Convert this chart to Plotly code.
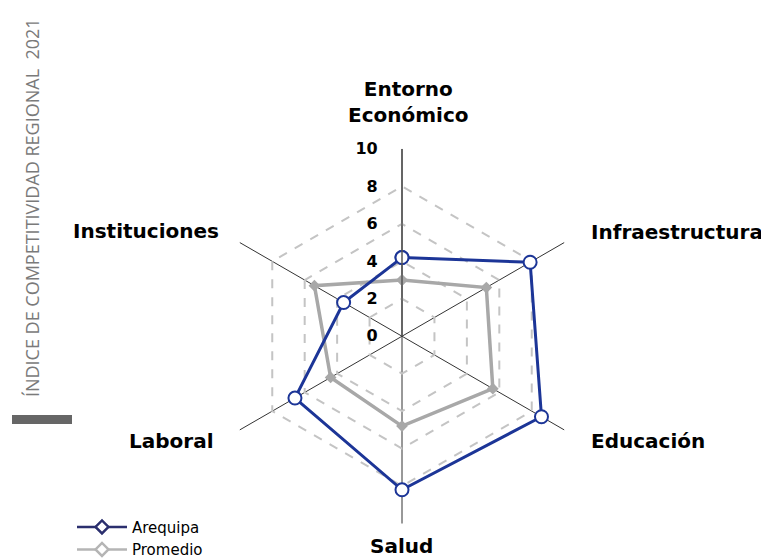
import plotly.graph_objects as go

# Datos
pilares = ['Entorno<br>Económico', 'Infraestructura', 'Educación', 'Salud', 'Laboral', 'Instituciones']
arequipa = [4.2, 7.9, 8.6, 8.2, 6.6, 3.6]
promedio = [3.0, 5.2, 5.6, 4.8, 4.4, 5.4]
ticks_r = [0, 2, 4, 6, 8, 10]

W, H = 769, 558
DX, DY = 8, 2   # la página añade un pequeño margen
azul = '#1c3597'
gris = '#a8a8a8'
fuente = 'DejaVu Sans'

def px_x(x):
    return (x - DX) / W

def px_y(y):
    return 1 - (y - DY) / H

# posición (px) y anclaje de cada etiqueta de pilar
pos_etiquetas = [
    (408, 97, 'center', 'middle'),
    (589, 229, 'left', 'middle'),
    (589, 441, 'left', 'middle'),
    (401, 548, 'center', 'middle'),
    (216, 441, 'right', 'middle'),
    (221, 228, 'right', 'middle'),
]

fig = go.Figure()

# series (cerradas)
fig.add_trace(go.Scatterpolar(
    r=promedio + promedio[:1], theta=pilares + pilares[:1],
    mode='lines+markers', name='Promedio', showlegend=False,
    line=dict(color=gris, width=3.5),
    marker=dict(symbol='diamond', size=9, color=gris)
))
fig.add_trace(go.Scatterpolar(
    r=arequipa + arequipa[:1], theta=pilares + pilares[:1],
    mode='lines+markers', name='Arequipa', showlegend=False,
    line=dict(color=azul, width=3),
    marker=dict(symbol='circle', size=13, color='white', line=dict(color=azul, width=2))
))

# entradas de leyenda
fig.add_trace(go.Scatterpolar(
    r=[None], theta=[pilares[0]], mode='lines+markers', name='Arequipa',
    line=dict(color='#2b2f6e', width=2.5),
    marker=dict(symbol='diamond', size=10, color='white', line=dict(color='#2b2f6e', width=2.5))
))
fig.add_trace(go.Scatterpolar(
    r=[None], theta=[pilares[0]], mode='lines+markers', name='Promedio',
    line=dict(color='#b5b5b5', width=2.5),
    marker=dict(symbol='diamond', size=10, color='white', line=dict(color='#b5b5b5', width=2.5))
))

anotaciones = [dict(
    text='ÍNDICE DE COMPETITIVIDAD REGIONAL  2021',
    x=px_x(18), y=px_y(205), xref='paper', yref='paper',
    textangle=-90, showarrow=False,
    font=dict(size=18, family='Open Sans', color='#7a7a7a')
)]
for nombre, (x, y, xa, ya) in zip(pilares, pos_etiquetas):
    anotaciones.append(dict(
        text=nombre, x=px_x(x), y=px_y(y), xref='paper', yref='paper',
        xanchor=xa, yanchor=ya, showarrow=False,
        font=dict(size=20, family=fuente, color='black', weight='bold')
    ))

fig.update_layout(
    width=W, height=H,
    margin=dict(l=0, r=0, t=0, b=0),
    paper_bgcolor='white',
    font=dict(family=fuente, color='black'),
    polar=dict(
        domain=dict(x=[px_x(212), px_x(592)], y=[px_y(525), px_y(145)]),
        bgcolor='white',
        gridshape='linear',
        radialaxis=dict(
            range=[0, 10], tickvals=ticks_r, angle=90, tickangle=90,
            side='counterclockwise',
            showline=True, linecolor='#555555', linewidth=1.5,
            ticks='outside', ticklen=18, tickcolor='rgba(0,0,0,0)',
            tickfont=dict(size=16, family=fuente, color='black', weight='bold'),
            gridcolor='#c4c4c4', griddash='dash', gridwidth=1.5,
        ),
        angularaxis=dict(
            direction='clockwise', rotation=90,
            showline=False, showticklabels=False, ticks='',
            gridcolor='#333333', gridwidth=1.2,
        ),
    ),
    legend=dict(
        x=px_x(72), y=px_y(512), xanchor='left', yanchor='top',
        font=dict(size=15, family=fuente, color='black'),
        tracegroupgap=0, itemwidth=50, bgcolor='rgba(0,0,0,0)'
    ),
    annotations=anotaciones,
    shapes=[dict(
        type='rect', xref='paper', yref='paper',
        x0=px_x(12), x1=px_x(72), y0=px_y(415), y1=px_y(424),
        fillcolor='#666666', line=dict(width=0)
    )]
)

fig.write_html("out.html")
